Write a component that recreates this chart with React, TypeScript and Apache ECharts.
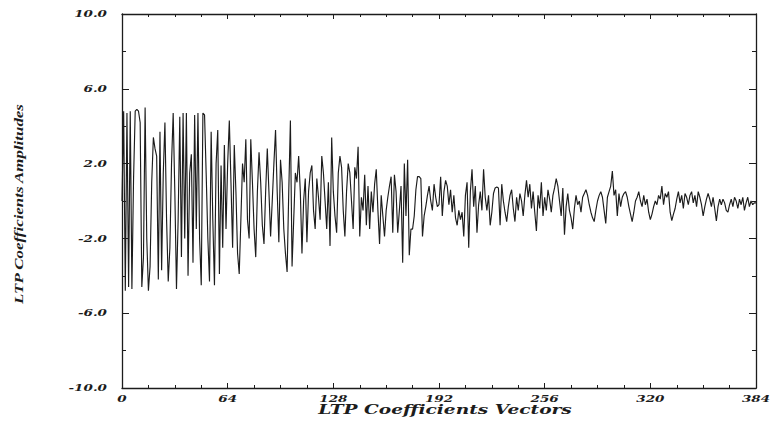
import React, { useEffect, useRef } from "react";
import * as echarts from "echarts";

const xTickValues = [0, 64, 128, 192, 256, 320, 384];
const xTickLabels = ["0", "64", "128", "192", "256", "320", "384"];
const yTickValues = [-10, -6, -2, 2, 6, 10];
const yTickLabels = ["-10.0", "-6.0", "-2.0", "2.0", "6.0", "10.0"];
const xTitle = "LTP Coefficients Vectors";
const yTitle = "LTP Coefficients Amplitudes";

const amplitudes = [
  0.0, 4.8, -4.8, 4.7, -4.6, 4.8, -4.7, 1.2, 4.8, 4.9, 4.8, 4.2, -4.6, -3.0, 5.0, -2.0,
  -4.8, -3.5, 1.0, 3.4, 2.8, 2.4, -4.2, 3.7, -3.7, 1.5, 4.2, -1.0, -4.3, -2.5, 2.0, 4.7,
  0.5, -4.7, -1.0, 4.5, -3.0, 4.7, -2.0, 4.7, -4.0, 1.5, 2.5, -3.3, 4.6, -1.5, 4.7, -2.0,
  -4.5, 4.7, 4.6, 1.4, -2.0, -4.3, 3.7, -1.0, -4.5, 2.0, 3.8, -3.9, 1.9, -2.5, 3.0, -1.5,
  2.0, 4.3, 1.0, -2.5, 3.0, 0.5, -2.8, -3.9, -1.0, 2.0, 1.0, 3.3, -1.0, -2.0, 3.3, 1.0,
  -1.5, -3.0, 0.5, 2.6, 1.0, -1.3, -2.3, 0.5, 2.8, 0.5, -1.9, 0.0, 2.0, 3.8, 0.5, -2.2,
  2.2, 1.0, -1.5, -2.8, -3.8, 0.5, 4.3, -3.5, -1.0, 1.5, 1.0, 2.4, 0.5, -2.8, 0.0, 1.2,
  -2.2, 0.5, 1.5, 1.9, -0.5, -1.5, 1.2, 0.2, -1.0, 2.4, 1.5, 0.0, -1.5, 1.0, -2.4, 3.4,
  0.5, -0.8, -1.7, 1.5, 2.4, 1.8, -0.5, -1.9, 0.5, 2.0, 1.5, 0.0, -1.5, 1.8, 1.2, 2.9,
  -1.9, 0.2, -0.5, 1.4, -1.3, 0.8, -1.5, 0.5, -0.6, 0.9, 1.7, -0.5, -2.3, 0.3, -0.8, -1.9,
  -0.5, 0.2, 0.8, 1.3, -1.7, 1.4, 0.5, -1.7, -0.5, 0.8, -3.3, 2.0, -0.8, 2.2, -2.9, -1.5,
  -1.5, -0.8, 0.6, 1.3, 1.3, 1.2, -1.9, -0.8, -0.3, 0.3, 0.8, 0.0, -0.5, 0.9, 0.2, -0.3,
  -0.2, 1.3, -0.8, 0.5, 1.1, 0.8, -0.2, 0.6, -0.6, 0.3, -0.9, -1.3, -0.5, -1.0, -0.6, -1.9,
  0.3, 1.0, -2.5, 0.5, 1.7, -0.3, 0.8, -1.7, -0.2, 0.5, -0.5, 1.7, 0.2, -0.5, 0.3, -1.3,
  -0.6, 0.4, 0.7, 0.75, 0.7, -1.3, 0.9, 0.0, -0.6, -1.1, -0.3, 0.3, 0.6, -0.4, -1.1, 0.2,
  -0.5, 0.4, 0.0, -0.8, 0.3, 1.1, 0.2, 0.9, -0.4, 0.5, -0.6, -1.6, 0.3, -0.4, 1.0, -0.8,
  0.2, -0.5, 0.6, 0.1, -0.6, 0.3, 0.7, 1.2, 0.8, 0.0, -0.8, 0.7, -1.8, -0.3, 0.4, -0.5,
  -0.9, -1.5, -0.4, 0.3, -0.2, 0.0, -0.6, 0.2, 0.4, 0.6, 0.3, -0.2, -0.6, -0.9, -1.1, -0.5,
  0.0, 0.3, 0.5, 0.2, -0.5, -1.2, 0.2, 0.5, 0.8, 1.6, 0.3, 0.6, -0.8, 0.4, -0.3, 0.2,
  0.4, 0.5, 0.2, -0.3, -0.7, -1.1, -0.6, 0.0, 0.2, 0.5, 0.0, -0.3, 0.3, -0.2, 0.1, -0.6,
  -1.0, -0.7, -0.3, 0.0, -0.2, 0.3, 0.1, 0.8, -0.2, 0.4, 0.2, 0.5, -0.6, -1.05, -0.7, -0.4,
  0.1, 0.5, -0.1, 0.3, -0.4, 0.4, 0.2, -0.2, 0.3, 0.5, -0.1, 0.3, -0.3, 0.5, 0.2, -0.2,
  -0.8, -0.3, 0.1, 0.4, 0.1, -0.3, 0.2, -0.4, -1.07, -0.3, 0.1, -0.2, 0.1, -0.1, -0.5, -0.6,
  -0.2, 0.1, -0.3, 0.2, 0.0, -0.4, 0.1, -0.2, 0.2, -0.5, -0.1, 0.2, -0.3, 0.0, -0.2, -0.1, -0.1,
];

const INK = "#1c1c1c";
const LABEL_FONT = "DejaVu Serif";

export default function App() {
  const ref = useRef<HTMLDivElement>(null);

  useEffect(() => {
    if (!ref.current) return;
    const chart = echarts.init(ref.current, null, { renderer: "svg" });

    const lineStyle = { color: INK, width: 1.3 };
    const xAxisBase = {
      type: "value" as const,
      min: 0,
      max: 384,
      interval: 64,
      axisLine: { show: true, onZero: false, lineStyle },
      axisTick: { show: true, inside: true, length: 5, lineStyle: { color: INK, width: 1 } },
      minorTick: { show: true, splitNumber: 4, length: 3, lineStyle: { color: INK, width: 1 } },
      axisLabel: { show: false },
      splitLine: { show: false },
      minorSplitLine: { show: false },
    };
    const yAxisBase = {
      type: "value" as const,
      min: -10,
      max: 10,
      interval: 4,
      axisLine: { show: true, onZero: false, lineStyle },
      axisTick: { show: true, inside: true, length: 7, lineStyle: { color: INK, width: 1 } },
      minorTick: { show: true, splitNumber: 2, length: 4, lineStyle: { color: INK, width: 1 } },
      axisLabel: { show: false },
      splitLine: { show: false },
      minorSplitLine: { show: false },
    };

    chart.setOption({
      animation: false,
      backgroundColor: "#ffffff",
      grid: { left: 122, right: 20, top: 14, bottom: 34 },
      xAxis: [
        { ...xAxisBase, position: "bottom" },
        { ...xAxisBase, position: "top" },
      ],
      yAxis: [
        { ...yAxisBase, position: "left" },
        { ...yAxisBase, position: "right" },
      ],
      series: [
        {
          type: "line",
          data: amplitudes.map((v, i) => [i, v]),
          symbol: "none",
          lineStyle: { color: INK, width: 1.15 },
          silent: true,
        },
      ],
    });

    const labelStyle = {
      fill: INK,
      fontFamily: LABEL_FONT,
      fontWeight: "bold",
      fontStyle: "italic",
      fontSize: 9,
    };

    const x0 = chart.convertToPixel({ xAxisIndex: 0 }, 0) as number;
    const yBottom = chart.convertToPixel({ yAxisIndex: 0 }, -10) as number;
    const yTop = chart.convertToPixel({ yAxisIndex: 0 }, 10) as number;
    const xEnd = chart.convertToPixel({ xAxisIndex: 0 }, 384) as number;

    const elements: any[] = [];
    xTickValues.forEach((v, i) => {
      const px = chart.convertToPixel({ xAxisIndex: 0 }, v) as number;
      elements.push({
        type: "text",
        x: px,
        y: yBottom + 11,
        scaleX: 1.5,
        silent: true,
        style: {
          ...labelStyle,
          text: xTickLabels[i],
          align: "center",
          verticalAlign: "middle",
          textAlign: "center",
          textVerticalAlign: "middle",
        },
      });
    });
    yTickValues.forEach((v, i) => {
      const py = chart.convertToPixel({ yAxisIndex: 0 }, v) as number;
      elements.push({
        type: "text",
        x: x0 - 15,
        y: py,
        scaleX: 1.5,
        silent: true,
        style: {
          ...labelStyle,
          text: yTickLabels[i],
          align: "right",
          verticalAlign: "middle",
          textAlign: "right",
          textVerticalAlign: "middle",
        },
      });
    });
    elements.push({
      type: "text",
      x: (x0 + xEnd) / 2 + 6,
      y: yBottom + 22,
      scaleX: 1.55,
      silent: true,
      style: {
        ...labelStyle,
        fontSize: 12,
        text: xTitle,
        align: "center",
        verticalAlign: "middle",
        textAlign: "center",
        textVerticalAlign: "middle",
      },
    });
    elements.push({
      type: "text",
      x: x0 - 103,
      y: (yTop + yBottom) / 2 + 3,
      rotation: Math.PI / 2,
      scaleX: 1.3,
      silent: true,
      style: {
        fill: INK,
        fontFamily: "Liberation Serif",
        fontWeight: "bold",
        fontStyle: "italic",
        fontSize: 13,
        text: yTitle,
        align: "center",
        verticalAlign: "middle",
        textAlign: "center",
        textVerticalAlign: "middle",
      },
    });

    chart.setOption({ graphic: { elements } });

    return () => {
      chart.dispose();
    };
  }, []);

  return (
    <div
      ref={ref}
      style={{ position: "fixed", left: 0, top: 0, width: 776, height: 422 }}
    />
  );
}
